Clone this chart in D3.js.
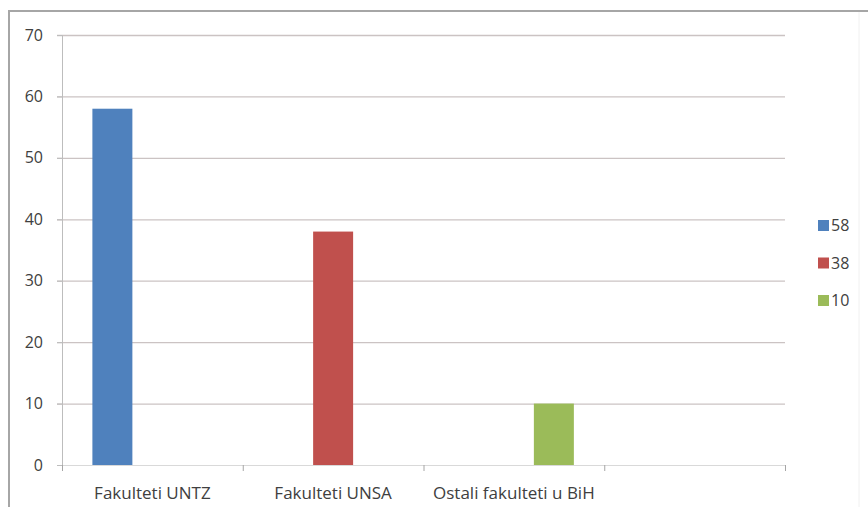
<!DOCTYPE html>
<html>
<head>
<meta charset="utf-8">
<script src="https://cdn.jsdelivr.net/npm/d3@7"></script>
<style>
  body { margin: 0; background: #fff; }
  text { font-family: "Open Sans", "DejaVu Sans", sans-serif; fill: #404040; }
</style>
</head>
<body>
<div id="chart"></div>
<script>
// data
const categories = ["Fakulteti UNTZ", "Fakulteti UNSA", "Ostali fakulteti u BiH", ""];
const seriesNames = ["58", "38", "10"];
const seriesValues = [
    [58, 0, 0, 0],
    [0, 38, 0, 0],
    [0, 0, 10, 0]
];
const yTicks = [0, 10, 20, 30, 40, 50, 60, 70];
const colors = ["#4f81bd", "#c0504d", "#9bbb59"];

function drawChart(){
    // spacing
    width = 868;
    height = 507;
    margin = ({top: 35, right: 83, bottom: 42, left: 62});
    plot_width = width - margin.left - margin.right;
    plot_height = height - margin.top - margin.bottom;

    const svg = d3.select("#chart").append("svg")
        .attr("width", width)
        .attr("height", height);

    // outer frame
    svg.append("path")
        .attr("d", `M9,507 V11 H868`)
        .attr("fill", "none")
        .attr("stroke", "#a6a6a6")
        .attr("stroke-width", 2);
    svg.append("line")
        .attr("x1", 859).attr("x2", 859).attr("y1", 12).attr("y2", 507)
        .attr("stroke", "#f0f0f0");

    // scales
    const xScale = d3.scaleBand().domain(d3.range(categories.length))
        .range([margin.left, margin.left + plot_width]).padding(0);
    const xInner = d3.scaleBand().domain(seriesNames)
        .range([0, xScale.bandwidth()]).paddingInner(0).paddingOuter(0.76);
    const yScale = d3.scaleLinear().domain([0, 70])
        .range([margin.top + plot_height, margin.top]);

    // gridlines
    svg.append("g")
        .selectAll("line")
        .data(yTicks.filter(d => d > 0))
        .join("line")
        .attr("x1", margin.left - 5)
        .attr("x2", margin.left + plot_width)
        .attr("y1", d => yScale(d) + 0.5)
        .attr("y2", d => yScale(d) + 0.5)
        .attr("stroke", "#cbc3c3")
        .attr("stroke-width", 1.3);

    // bars
    seriesNames.forEach(function(s, i) {
        svg.append("g")
            .selectAll("rect")
            .data(seriesValues[i])
            .join("rect")
            .attr("x", (d, j) => xScale(j) + xInner(s))
            .attr("y", d => yScale(d))
            .attr("width", xInner.bandwidth())
            .attr("height", d => yScale(0) - yScale(d))
            .attr("fill", colors[i]);
    });

    // y axis
    const yAxis = d3.axisLeft(yScale).tickValues(yTicks).tickSize(5).tickPadding(14);
    svg.append("g")
        .attr("transform", `translate(${margin.left},0)`)
        .call(yAxis)
        .call(g => g.select(".domain").attr("stroke", "#bdbdbd"))
        .call(g => g.selectAll(".tick line").attr("stroke", "#bdbdbd"))
        .call(g => g.selectAll(".tick text")
            .attr("font-size", 16)
            .attr("font-family", "Open Sans, sans-serif")
            .attr("fill", "#404040"));

    // x axis
    const edges = d3.range(categories.length + 1).map(i => margin.left + i * xScale.step());
    const gx = svg.append("g");
    gx.append("line")
        .attr("x1", margin.left).attr("x2", margin.left + plot_width)
        .attr("y1", yScale(0) + 0.5).attr("y2", yScale(0) + 0.5)
        .attr("stroke", "#d9d9d9");
    gx.selectAll(".xtick")
        .data(edges)
        .join("line")
        .attr("class", "xtick")
        .attr("x1", d => d + 0.5).attr("x2", d => d + 0.5)
        .attr("y1", yScale(0)).attr("y2", yScale(0) + 6)
        .attr("stroke", "#a6a6a6");
    gx.selectAll("text")
        .data(categories)
        .join("text")
        .attr("x", (d, i) => xScale(i) + xScale.bandwidth() / 2)
        .attr("y", 499)
        .attr("text-anchor", "middle")
        .attr("font-size", 17)
        .text(d => d);

    // legend
    const legend = svg.append("g");
    const legendY = d3.scalePoint().domain(seriesNames).range([225, 300]);
    legend.selectAll("rect")
        .data(seriesNames)
        .join("rect")
        .attr("x", 818)
        .attr("y", d => legendY(d) - 5)
        .attr("width", 11)
        .attr("height", 11)
        .attr("fill", (d, i) => colors[i]);
    legend.selectAll("text")
        .data(seriesNames)
        .join("text")
        .attr("x", 831)
        .attr("y", d => legendY(d) + 6)
        .attr("font-size", 16)
        .text(d => d);

    return svg.node();
}

drawChart();
</script>
</body>
</html>
